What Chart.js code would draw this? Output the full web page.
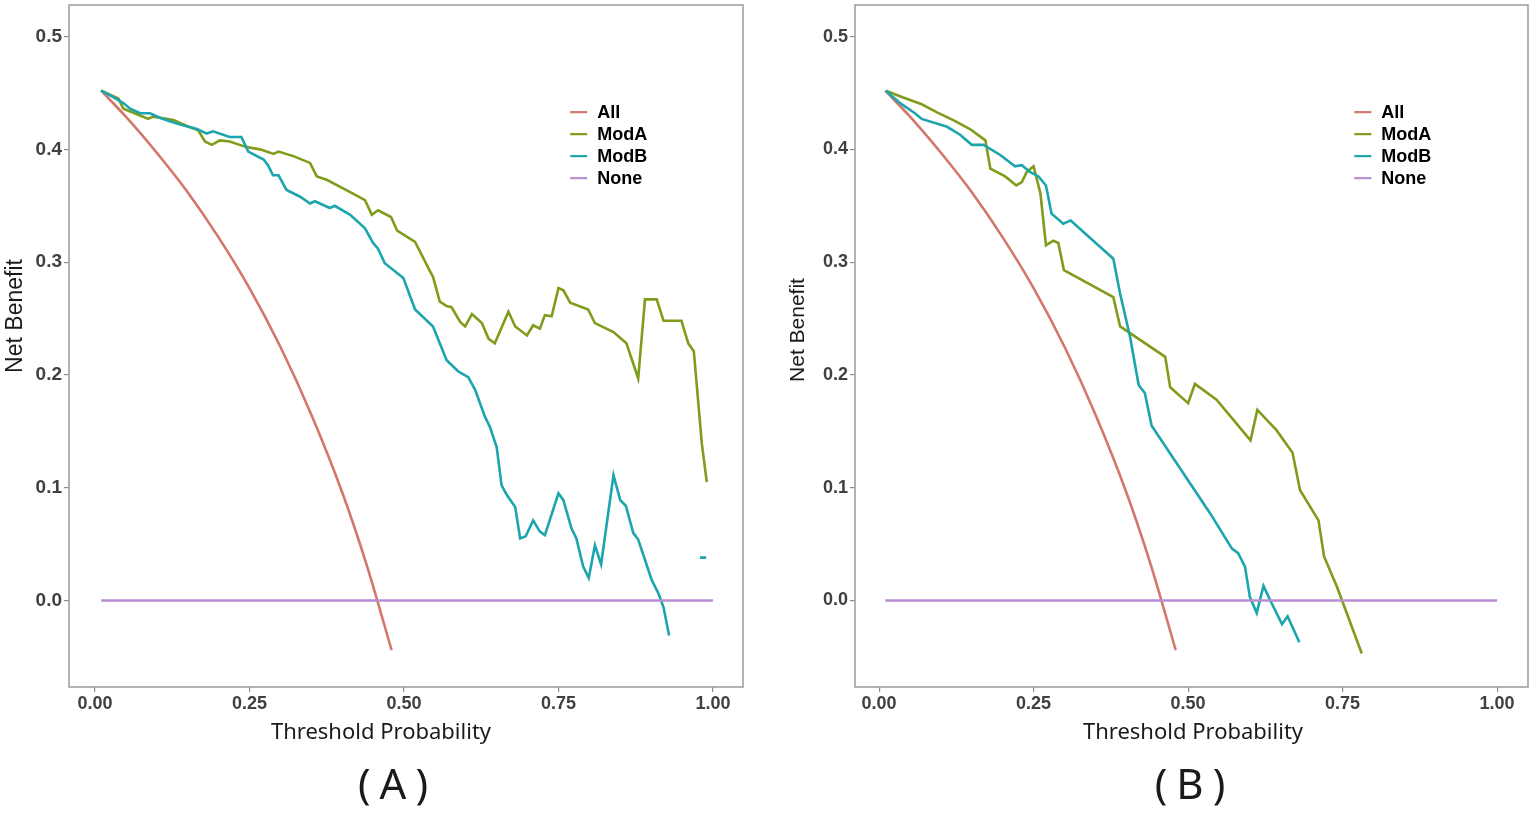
<!DOCTYPE html>
<html>
<head>
<meta charset="utf-8">
<title>Decision curves</title>
<script src="https://cdn.jsdelivr.net/npm/chart.js@4.4.1/dist/chart.umd.min.js"></script>
<style>
  html, body { margin: 0; padding: 0; background: #fff; }
  body { width: 1535px; height: 813px; position: relative; overflow: hidden; }
  .panel { position: absolute; top: 0; height: 813px; }
</style>
</head>
<body>
<div class="panel" style="left:0; width:765px;"><canvas id="chartA" width="765" height="813"></canvas></div>
<div class="panel" style="left:783px; width:752px;"><canvas id="chartB" width="752" height="813"></canvas></div>

<script>
// ---- data: [threshold, net benefit] ----
const seriesNames = ['All', 'ModA', 'ModB', 'None'];
const seriesColors = ['#d3766c', '#7f9c1b', '#1ba5ac', '#b98cd3'];
const xTicks = [0, 0.25, 0.5, 0.75, 1];
const yTicks = [0, 0.1, 0.2, 0.3, 0.4, 0.5];

// treat-all curve, same in both panels
const allCurve = [
  [0.01, 0.452], [0.05, 0.429], [0.10, 0.397], [0.15, 0.362], [0.20, 0.322],
  [0.25, 0.277], [0.30, 0.225], [0.35, 0.165], [0.40, 0.096], [0.44, 0.031], [0.48, -0.044]
];
const noneLine = [[0.01, 0], [1.00, 0]];

// panel A
const modA_A = [
  [0.010, 0.452], [0.038, 0.445], [0.046, 0.436], [0.073, 0.430], [0.086, 0.427], [0.094, 0.429],
  [0.127, 0.426], [0.148, 0.421], [0.167, 0.417], [0.178, 0.407], [0.189, 0.404], [0.202, 0.408],
  [0.218, 0.407], [0.245, 0.402], [0.267, 0.400], [0.289, 0.396], [0.297, 0.398], [0.321, 0.394],
  [0.348, 0.388], [0.359, 0.376], [0.375, 0.373], [0.413, 0.362], [0.437, 0.355], [0.448, 0.342],
  [0.458, 0.346], [0.479, 0.340], [0.489, 0.328], [0.518, 0.318], [0.542, 0.292], [0.547, 0.287],
  [0.558, 0.265], [0.569, 0.261], [0.577, 0.260], [0.591, 0.247], [0.599, 0.243], [0.610, 0.254],
  [0.626, 0.246], [0.637, 0.232], [0.647, 0.228], [0.669, 0.256], [0.680, 0.243], [0.699, 0.235],
  [0.709, 0.244], [0.720, 0.241], [0.728, 0.253], [0.739, 0.252], [0.750, 0.277], [0.758, 0.275],
  [0.769, 0.264], [0.798, 0.258], [0.809, 0.246], [0.839, 0.238], [0.860, 0.228], [0.879, 0.197],
  [0.890, 0.267], [0.909, 0.267], [0.920, 0.248], [0.949, 0.248], [0.960, 0.228], [0.969, 0.221],
  [0.982, 0.139], [0.990, 0.105]
];
const modB_A = [
  [0.010, 0.452], [0.024, 0.448], [0.046, 0.441], [0.057, 0.436], [0.073, 0.432], [0.089, 0.432],
  [0.105, 0.428], [0.121, 0.425], [0.138, 0.422], [0.151, 0.420], [0.165, 0.418], [0.181, 0.414],
  [0.191, 0.416], [0.218, 0.411], [0.237, 0.411], [0.248, 0.398], [0.273, 0.391], [0.280, 0.386],
  [0.288, 0.377], [0.297, 0.377], [0.310, 0.364], [0.332, 0.358], [0.348, 0.352], [0.356, 0.354],
  [0.380, 0.348], [0.388, 0.350], [0.413, 0.342], [0.437, 0.330], [0.450, 0.317], [0.458, 0.312],
  [0.469, 0.299], [0.499, 0.286], [0.518, 0.258], [0.547, 0.243], [0.569, 0.213], [0.588, 0.203],
  [0.604, 0.198], [0.615, 0.187], [0.631, 0.163], [0.639, 0.154], [0.650, 0.136], [0.658, 0.102],
  [0.666, 0.094], [0.680, 0.083], [0.688, 0.055], [0.697, 0.057], [0.709, 0.071], [0.720, 0.061],
  [0.728, 0.058], [0.750, 0.095], [0.758, 0.089], [0.771, 0.064], [0.779, 0.055], [0.790, 0.030],
  [0.799, 0.020], [0.809, 0.049], [0.819, 0.032], [0.839, 0.111], [0.850, 0.089], [0.859, 0.084],
  [0.871, 0.060], [0.879, 0.054], [0.901, 0.018], [0.912, 0.006], [0.920, -0.006], [0.929, -0.031],
  [0.955, null], [0.979, 0.038], [0.989, 0.038]
];

// panel B
const modA_B = [
  [0.011, 0.452], [0.039, 0.446], [0.069, 0.440], [0.093, 0.433], [0.120, 0.426], [0.147, 0.418],
  [0.172, 0.408], [0.180, 0.383], [0.204, 0.376], [0.222, 0.368], [0.231, 0.371], [0.239, 0.380],
  [0.250, 0.385], [0.261, 0.361], [0.270, 0.315], [0.282, 0.319], [0.290, 0.317], [0.299, 0.293],
  [0.379, 0.269], [0.390, 0.243], [0.463, 0.216], [0.471, 0.189], [0.500, 0.175], [0.511, 0.192],
  [0.546, 0.178], [0.601, 0.142], [0.612, 0.169], [0.643, 0.151], [0.669, 0.131], [0.681, 0.098],
  [0.711, 0.071], [0.720, 0.039], [0.741, 0.012], [0.781, -0.047]
];
const modB_B = [
  [0.011, 0.452], [0.034, 0.441], [0.058, 0.432], [0.069, 0.427], [0.110, 0.420], [0.131, 0.413],
  [0.150, 0.404], [0.169, 0.404], [0.196, 0.395], [0.220, 0.385], [0.231, 0.386], [0.244, 0.380],
  [0.258, 0.376], [0.270, 0.368], [0.279, 0.343], [0.298, 0.334], [0.310, 0.337], [0.379, 0.303],
  [0.390, 0.272], [0.406, 0.234], [0.420, 0.191], [0.430, 0.184], [0.441, 0.155], [0.492, 0.113],
  [0.536, 0.077], [0.571, 0.046], [0.581, 0.042], [0.592, 0.030], [0.600, 0.003], [0.611, -0.011],
  [0.622, 0.013], [0.633, 0.000], [0.652, -0.021], [0.661, -0.014], [0.680, -0.037]
];

// ---- helpers ----
const toPoints = pairs => pairs.map(([x, y]) => ({ x, y }));

function makeDatasets(modA, modB) {
  const series = [allCurve, modA, modB, noneLine];
  return series.map((pairs, i) => ({
    label: seriesNames[i],
    data: toPoints(pairs),
    borderColor: seriesColors[i],
    backgroundColor: seriesColors[i],
    borderWidth: 2.6,
    pointRadius: 0,
    fill: false,
    spanGaps: false,
    tension: 0,
    cubicInterpolationMode: i === 0 ? 'monotone' : 'default',
    order: 4 - i
  }));
}

// grey box round the panel, like ggplot's theme_bw border
const panelFrame = {
  id: 'panelFrame',
  afterDatasetsDraw(chart) {
    const { ctx, chartArea: a } = chart;
    ctx.save();
    ctx.strokeStyle = '#9a9a9a';
    ctx.lineWidth = 1.5;
    ctx.strokeRect(a.left, a.top, a.right - a.left, a.bottom - a.top);
    ctx.restore();
  }
};

// legend drawn inside the plot, top right
const insideLegend = {
  id: 'insideLegend',
  afterDatasetsDraw(chart, args, opts) {
    const { ctx, scales: { x, y } } = chart;
    const x0 = x.getPixelForValue(opts.x);
    let yy = y.getPixelForValue(opts.y);
    ctx.save();
    ctx.font = 'bold 18px "Liberation Sans", Arial, sans-serif';
    ctx.textBaseline = 'middle';
    ctx.textAlign = 'left';
    chart.data.datasets.forEach(ds => {
      ctx.strokeStyle = ds.borderColor;
      ctx.lineWidth = 2.2;
      ctx.beginPath();
      ctx.moveTo(x0, yy);
      ctx.lineTo(x0 + 17, yy);
      ctx.stroke();
      ctx.fillStyle = '#000';
      ctx.fillText(ds.label, x0 + 27, yy + 1);
      yy += opts.rowGap;
    });
    ctx.restore();
  }
};

// axis titles and panel tag
const captions = {
  id: 'captions',
  afterDraw(chart, args, o) {
    const { ctx } = chart;
    ctx.save();
    ctx.fillStyle = '#1a1a1a';
    ctx.textAlign = 'center';
    ctx.textBaseline = 'middle';

    ctx.save();
    ctx.translate(o.yTitle[0], o.yTitle[1]);
    ctx.rotate(-Math.PI / 2);
    ctx.font = o.yTitleSize + 'px "Liberation Sans", Arial, sans-serif';
    ctx.fillText('Net Benefit', 0, 0);
    ctx.restore();

    ctx.font = '22px "Noto Sans", "Open Sans", sans-serif';
    ctx.fillText('Threshold Probability', o.xTitle[0], o.xTitle[1]);

    ctx.font = '42px "Noto Sans", "Open Sans", sans-serif';
    ctx.letterSpacing = '9px';
    ctx.fillText(o.tag, o.tagPos[0] + 4.5, o.tagPos[1]);
    ctx.restore();
  }
};

function makeChart(id, modA, modB, cfg) {
  return new Chart(document.getElementById(id), {
    type: 'line',
    data: { datasets: makeDatasets(modA, modB) },
    options: {
      responsive: false,
      animation: false,
      layout: { padding: { left: 0, right: cfg.padRight, top: 5, bottom: 0 } },
      scales: {
        x: {
          type: 'linear',
          min: cfg.xMin, max: cfg.xMax,
          afterBuildTicks: s => { s.ticks = xTicks.map(v => ({ value: v })); },
          afterFit: s => { s.height = 126; s.paddingLeft = 0; s.paddingRight = 0; },
          grid: { drawOnChartArea: false, drawTicks: true, tickLength: 5, color: '#8c8c8c', lineWidth: 1.2 },
          border: { display: false },
          ticks: {
            padding: 1,
            color: '#404040',
            font: { family: '"Liberation Sans", Arial, sans-serif', size: 18, weight: 'bold' },
            callback: v => Number(v).toFixed(2),
            maxRotation: 0
          }
        },
        y: {
          type: 'linear',
          min: -0.0767, max: 0.528,
          afterBuildTicks: s => { s.ticks = yTicks.map(v => ({ value: v })); },
          afterFit: s => { s.width = cfg.yWidth; s.paddingTop = 0; s.paddingBottom = 0; },
          grid: { drawOnChartArea: false, drawTicks: true, tickLength: 5, color: '#8c8c8c', lineWidth: 1.2 },
          border: { display: false },
          ticks: {
            padding: 2,
            color: '#404040',
            font: { family: '"Liberation Sans", Arial, sans-serif', size: cfg.yTickSize, weight: 'bold' },
            callback: v => Number(v).toFixed(1)
          }
        }
      },
      plugins: {
        legend: { display: false },
        tooltip: { enabled: false },
        insideLegend: { x: 0.769, y: 0.433, rowGap: 22 },
        captions: cfg.captions
      }
    },
    plugins: [panelFrame, insideLegend, captions]
  });
}

makeChart('chartA', modA_A, modB_A, {
  xMin: -0.042, xMax: 1.0486, yWidth: 69, padRight: 22, yTickSize: 19,
  captions: { yTitle: [16, 316], yTitleSize: 23, xTitle: [381, 733], tag: '(A)', tagPos: [393, 787] }
});
makeChart('chartB', modA_B, modB_B, {
  xMin: -0.039, xMax: 1.050, yWidth: 72, padRight: 7, yTickSize: 18,
  captions: { yTitle: [15, 330], yTitleSize: 21, xTitle: [410, 733], tag: '(B)', tagPos: [407, 787] }
});
</script>
</body>
</html>
